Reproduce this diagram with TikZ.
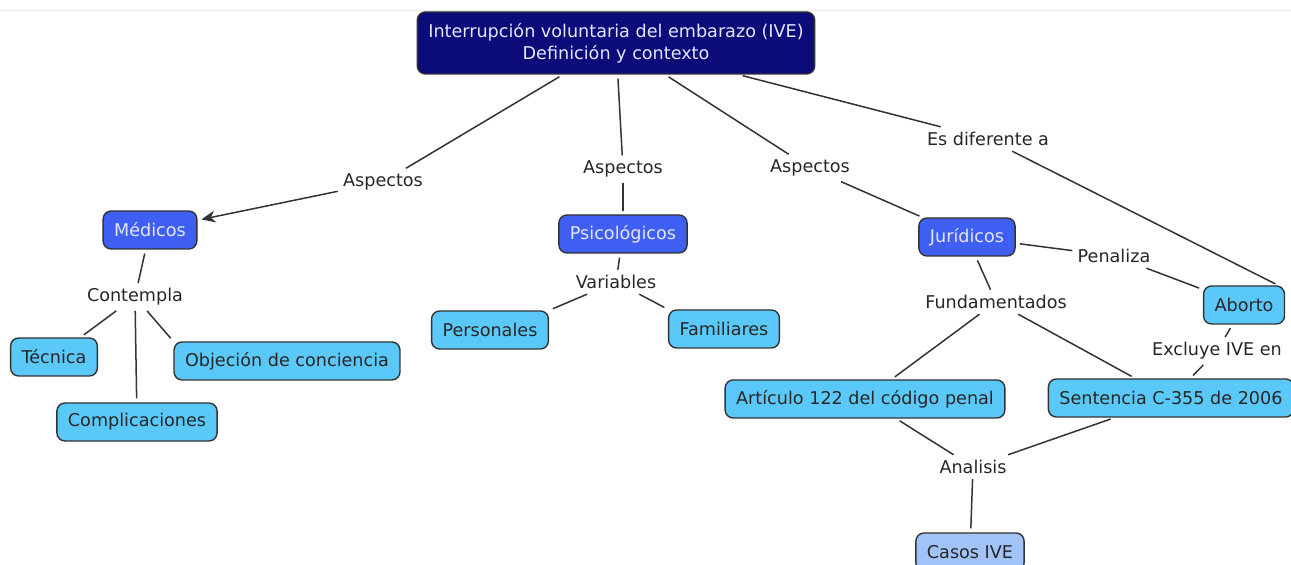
\documentclass[tikz,border=0pt]{standalone}
\usepackage{fontspec}
\setmainfont{DejaVu Sans}
\usetikzlibrary{arrows.meta}
\definecolor{navybox}{HTML}{0B0B7A}
\definecolor{bluebox}{HTML}{3F5FF2}
\definecolor{skybox}{HTML}{5AC8F8}
\definecolor{palebox}{HTML}{A0C4F8}
\definecolor{linkgray}{HTML}{333333}
\tikzset{
  concept/.style = {draw = linkgray, line width = 0.7pt, rounded corners = 4pt,
    inner xsep = 5.5pt, minimum height = 19pt, font = \fontsize{8.8}{11}\selectfont},
  topbox/.style = {concept, fill = navybox, text = white!90!blue, align = center, minimum height = 31pt},
  midbox/.style = {concept, fill = bluebox, text = white!90!blue},
  leafbox/.style = {concept, fill = skybox, text = black!85},
  casebox/.style = {concept, fill = palebox, text = black!85},
  linklabel/.style = {inner sep = 2.5pt, text = black!85, font = \fontsize{8.8}{11}\selectfont},
  link/.style = {draw = linkgray, line width = 0.75pt}
}
\begin{document}
\begin{tikzpicture}[x = 0.5pt, y = -0.5pt]
  \useasboundingbox (0, 0) rectangle (1291, 565);
  \draw[black!8, line width = 0.4pt] (0, 10) -- (1291, 10);
  % concepts
  \node[topbox] (ive) at (616, 43) {Interrupción voluntaria del embarazo (IVE)\\Definición y contexto};
  \node[midbox] (med) at (150, 230) {Médicos};
  \node[midbox] (psi) at (623, 234) {Psicológicos};
  \node[midbox] (jur) at (967, 237) {Jurídicos};
  \node[leafbox] (abo) at (1244, 305) {Aborto};
  \node[leafbox] (tec) at (54, 357) {Técnica};
  \node[leafbox] (obj) at (287, 361) {Objeción de conciencia};
  \node[leafbox] (com) at (137, 422) {Complicaciones};
  \node[leafbox] (per) at (490, 330) {Personales};
  \node[leafbox] (fam) at (724, 329) {Familiares};
  \node[leafbox] (art) at (865, 399) {Artículo 122 del código penal};
  \node[leafbox] (sen) at (1171, 398) {Sentencia C-355 de 2006};
  \node[casebox] (cas) at (970, 552) {Casos IVE};
  % link labels
  \node[linklabel] (aspa) at (383, 182) {Aspectos};
  \node[linklabel] (aspb) at (623, 169) {Aspectos};
  \node[linklabel] (aspc) at (810, 168) {Aspectos};
  \node[linklabel] (dif) at (988, 139) {Es diferente a};
  \node[linklabel] (cont) at (135, 297) {Contempla};
  \node[linklabel] (var) at (616, 282) {Variables};
  \node[linklabel] (pen) at (1114, 256) {Penaliza};
  \node[linklabel] (fun) at (996, 302) {Fundamentados};
  \node[linklabel] (exc) at (1217, 351) {Excluye IVE en};
  \node[linklabel] (ana) at (973, 467) {Analisis};
  % connectors
  \draw[link, shorten <= 2pt] (ive) -- (aspa);
  \draw[link, -{Stealth[length = 7pt, width = 6pt]}, shorten > = 2pt] (aspa) -- (med);
  \draw[link, shorten <= 2pt] (ive) -- (aspb);
  \draw[link, shorten > = 1.5pt] (aspb) -- (psi);
  \draw[link, shorten <= 2pt] (ive) -- (aspc);
  \draw[link, shorten > = 1.5pt] (aspc) -- (jur);
  \draw[link, shorten <= 2pt] (ive) -- (dif);
  \draw[link, shorten > = 1.5pt] (dif) -- (abo.30);
  \draw[link, shorten <= 2pt] (med) -- (cont);
  \draw[link, shorten > = 2pt] (cont) -- (tec);
  \draw[link, shorten > = 2pt] (cont) -- (com);
  \draw[link, shorten > = 2pt] (cont) -- (obj.north west);
  \draw[link, shorten <= 2pt] (psi) -- (var);
  \draw[link, shorten > = 2pt] (var) -- (per.north east);
  \draw[link, shorten > = 2pt] (var) -- (fam.north west);
  \draw[link, shorten <= 2pt] (jur) -- (pen);
  \draw[link, shorten > = 2pt] (pen) -- (abo);
  \draw[link, shorten <= 2pt] (jur) -- (fun);
  \draw[link, shorten > = 2pt] (fun) -- (art);
  \draw[link, shorten > = 2pt] (fun) -- (sen);
  \draw[link, shorten <= 2pt] (abo) -- (exc);
  \draw[link, shorten > = 2pt] (exc) -- (sen);
  \draw[link, shorten <= 2pt] (art) -- (ana);
  \draw[link, shorten <= 2pt] (sen) -- (ana);
  \draw[link, shorten > = 2pt] (ana) -- (cas);
\end{tikzpicture}
\end{document}
